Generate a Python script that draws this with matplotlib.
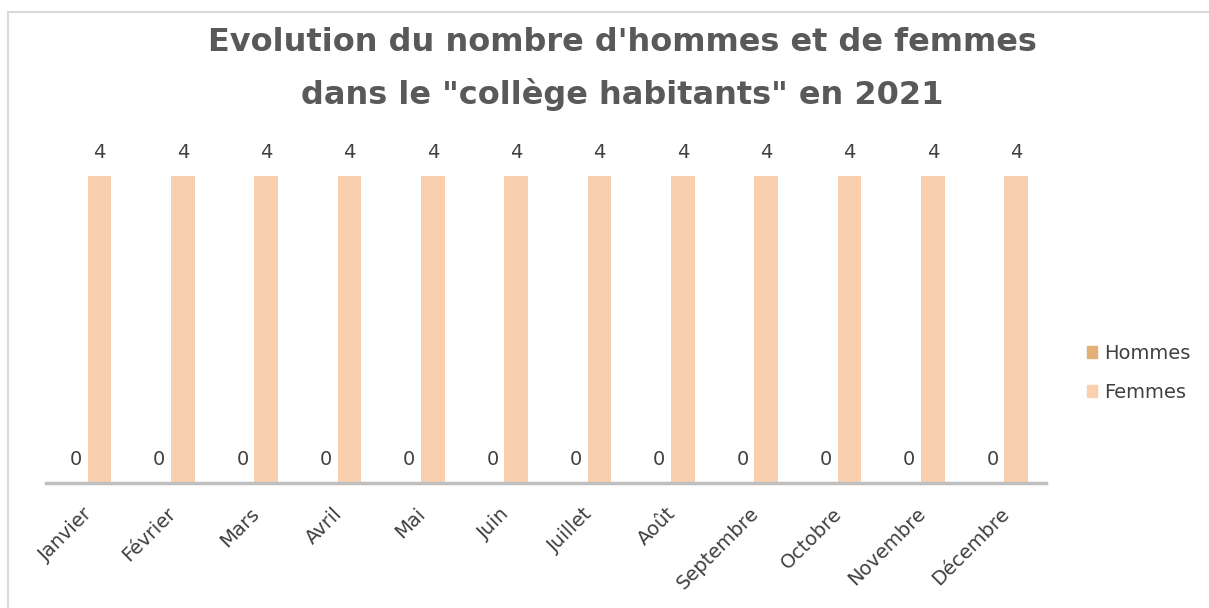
import matplotlib
matplotlib.use("Agg")
import matplotlib.pyplot as plt
import matplotlib.transforms as mtransforms
import numpy as np
from matplotlib.patches import Rectangle

months = ["Janvier", "Février", "Mars", "Avril", "Mai", "Juin", "Juillet",
          "Août", "Septembre", "Octobre", "Novembre", "Décembre"]
hommes = [0, 0, 0, 0, 0, 0, 0, 0, 0, 0, 0, 0]
femmes = [4, 4, 4, 4, 4, 4, 4, 4, 4, 4, 4, 4]
title = "Evolution du nombre d'hommes et de femmes\ndans le \"collège habitants\" en 2021"

c_h = "#E3B077"
c_f = "#F8D0B0"
txt = "#404040"
FONT = ["DejaVu Sans"]
plt.rcParams["font.family"] = FONT

W, H = 1209, 608
fig = plt.figure(figsize=(W / 100, H / 100), dpi=100)
fig.patches.append(Rectangle((8 / W, -0.1), 1.2, (H - 12) / H + 0.1,
                             transform=fig.transFigure, fill=False,
                             edgecolor="#D9D9D9", linewidth=1.5))

ax_left, ax_right = 46 / W, 1046 / W
ax_bottom, ax_top = (H - 483) / H, (H - 176) / H
ax = fig.add_axes([ax_left, ax_bottom, ax_right - ax_left, ax_top - ax_bottom])

x = np.arange(len(months))
bw = 0.285
b1 = ax.bar(x - bw / 2, hommes, bw, color=c_h, label="Hommes")
b2 = ax.bar(x + bw / 2, femmes, bw, color=c_f, label="Femmes")
ax.set_xlim(-0.5, len(months) - 0.5)
ax.set_ylim(0, 4)

for rects, vals in ((b1, hommes), (b2, femmes)):
    for r, v in zip(rects, vals):
        ax.annotate(str(v), (r.get_x() + r.get_width() / 2, v),
                    xytext=(0, 10), textcoords="offset points",
                    ha="center", va="bottom", fontsize=14, color=txt,
                    annotation_clip=False)

for s in ("top", "right", "left"):
    ax.spines[s].set_visible(False)
ax.spines["bottom"].set_color("#BFBFBF")
ax.spines["bottom"].set_linewidth(2.5)
ax.set_yticks([])
ax.set_xticks(x)
ax.set_xticklabels(months, rotation=45, ha="right", rotation_mode="anchor",
                   fontsize=14, color=txt)
ax.tick_params(axis="x", length=0, pad=15)
offset = mtransforms.ScaledTranslation(-5 / 100, 0, fig.dpi_scale_trans)
for lbl in ax.get_xticklabels():
    lbl.set_transform(lbl.get_transform() + offset)

fig.text(622 / W, 1 - 69 / H, title, ha="center", va="center",
         fontsize=23, fontweight="heavy", color="#595959", linespacing=1.75,
         family=["DejaVu Sans"])

handles = [Rectangle((0, 0), 1, 1, color=c_h), Rectangle((0, 0), 1, 1, color=c_f)]
fig.legend(handles, ["Hommes", "Femmes"], loc="center left",
           bbox_to_anchor=(1069 / W, 1 - 373 / H), frameon=False,
           fontsize=14, labelcolor=txt, handlelength=0.55, handleheight=0.55,
           handletextpad=0.35, labelspacing=1.05)

fig.savefig("out.png", dpi=100)
